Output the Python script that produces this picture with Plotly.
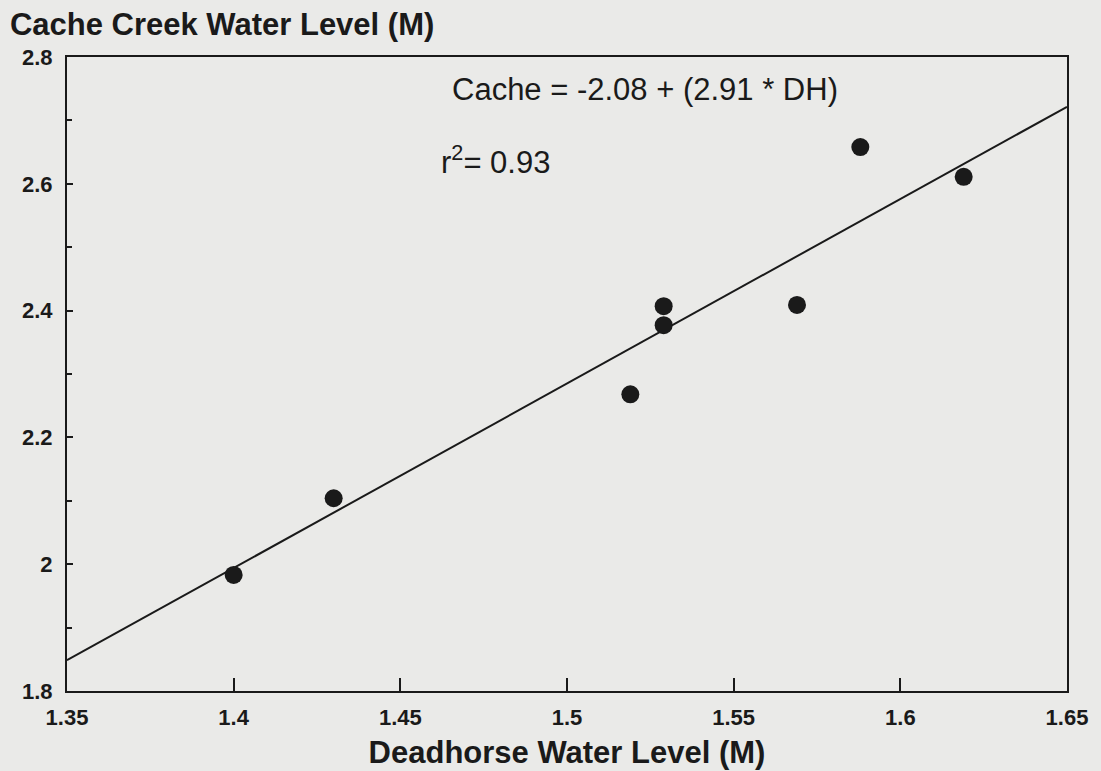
import plotly.graph_objects as go

# Data
deadhorse = [1.40, 1.43, 1.519, 1.529, 1.529, 1.569, 1.588, 1.619]
cache = [1.983, 2.104, 2.268, 2.407, 2.377, 2.409, 2.658, 2.611]

intercept = -2.08
slope = 2.91
fit_x = [1.35, 1.65]
fit_y = [intercept + slope * v for v in fit_x]

x_ticks = [1.35, 1.4, 1.45, 1.5, 1.55, 1.6, 1.65]
x_ticktext = ["1.35", "1.4", "1.45", "1.5", "1.55", "1.6", "1.65"]
y_ticks = [1.8, 2.0, 2.2, 2.4, 2.6, 2.8]
y_ticktext = ["1.8", "2", "2.2", "2.4", "2.6", "2.8"]

bg = "#eaeae8"
ink = "#1a1a1a"
font_family = "Liberation Sans, Arial, sans-serif"

fig = go.Figure()
fig.add_trace(go.Scatter(x=fit_x, y=fit_y, mode="lines",
                         line=dict(color=ink, width=2), showlegend=False,
                         hoverinfo="skip"))
fig.add_trace(go.Scatter(x=deadhorse, y=cache, mode="markers",
                         marker=dict(color=ink, size=18), showlegend=False))

fig.update_layout(
    width=1101, height=771,
    paper_bgcolor=bg, plot_bgcolor=bg,
    margin=dict(l=67, r=34, t=57, b=80),
    font=dict(family=font_family, color=ink),
    title=dict(text="<b>Cache Creek Water Level (M)</b>", xref="container", yref="container",
               x=0.009, xanchor="left", y=1 - 24 / 771, yanchor="middle",
               font=dict(size=31, color=ink, family=font_family)),
    xaxis=dict(range=[1.35, 1.65], tickvals=x_ticks, ticktext=x_ticktext,
               automargin=False,
               showgrid=False, zeroline=False, showline=True, linecolor=ink, linewidth=2,
               mirror=True, ticks="inside", ticklen=13, tickwidth=1.5, tickcolor=ink,
               ticklabelstandoff=6,
               tickfont=dict(size=22, family=font_family, color=ink, weight="bold"),
               title=dict(text="<b>Deadhorse Water Level (M)</b>", standoff=12,
                          font=dict(size=31, family=font_family, color=ink))),
    yaxis=dict(range=[1.8, 2.8], tickvals=y_ticks, ticktext=y_ticktext,
               automargin=False,
               showgrid=False, zeroline=False, showline=True, linecolor=ink, linewidth=2,
               mirror=True, ticks="inside", ticklen=6, tickwidth=1.5, tickcolor=ink,
               ticklabelstandoff=8,
               minor=dict(dtick=0.1, ticks="inside", ticklen=5, tickcolor=ink, showgrid=False),
               tickfont=dict(size=22, family=font_family, color=ink, weight="bold")),
    annotations=[
        dict(text="Cache = -2.08 + (2.91 * DH)", x=1.5235, y=2.748, xref="x", yref="y",
             showarrow=False, font=dict(size=31, family=font_family, color=ink)),
        dict(text="r<sup>2</sup>= 0.93", x=1.4615, y=2.638, xref="x", yref="y",
             xanchor="left", showarrow=False, font=dict(size=31, family=font_family, color=ink)),
    ],
)

fig.write_html("out.html")
